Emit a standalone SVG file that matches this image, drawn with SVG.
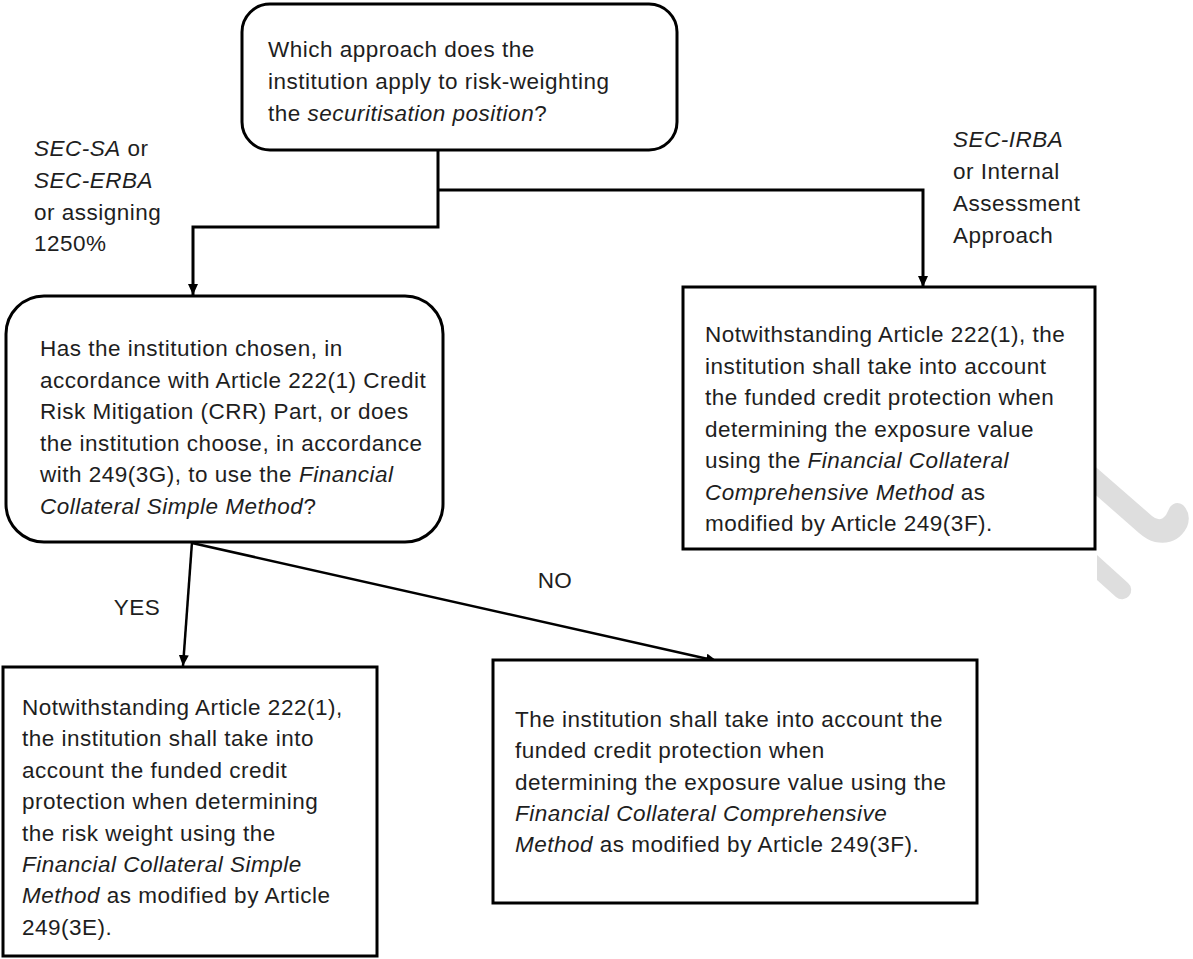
<svg xmlns="http://www.w3.org/2000/svg" width="1193" height="959" viewBox="0 0 1193 959">
<style>
.box{fill:#fff;stroke:#000;stroke-width:3}
.t{font-family:"Liberation Sans",Arial,sans-serif;font-size:22.5px;letter-spacing:0.5px;fill:#1e1e1e}
.i{font-style:italic}
.c{fill:none;stroke:#000;stroke-width:3}
.d{fill:none;stroke:#000;stroke-width:2.5}
.wm{fill:#dedede}
</style>
<defs>
<marker id="ah" markerUnits="userSpaceOnUse" markerWidth="11" markerHeight="10" refX="11" refY="5" orient="auto">
<path d="M0,0 L11,5 L0,10 z" fill="#000"/>
</marker>
</defs>
<g id="watermark">
<path class="wm" d="M1090 462 L1152 516 Q1160 523 1166 515 L1170 507 Q1176 500 1183 505 Q1192 514 1187 527 Q1177 546 1155 542 Q1147 540 1139 533 L1090 490 Z"/>
<path class="wm" d="M1097 555 L1128 583 A 9.2 9.2 0 0 1 1116 597 L1097 580 Z"/>
</g>
<g id="connectors">
<path class="c" d="M438 150 V227 H193 V295" marker-end="url(#ah)"/>
<path class="c" d="M438 190 H923 V287" marker-end="url(#ah)"/>
<path class="d" d="M192 542 L183 666" marker-end="url(#ah)"/>
<path class="d" d="M192 543 L717 661" marker-end="url(#ah)"/>
</g>
<g id="q1">
<rect class="box" x="242" y="4" width="435" height="146" rx="28"/>
<text class="t" x="268" y="57">Which approach does the</text>
<text class="t" x="268" y="89">institution apply to risk-weighting</text>
<text class="t" x="268" y="121">the <tspan class="i">securitisation position</tspan>?</text>
</g>
<g id="label-left">
<text class="t" x="34" y="156"><tspan class="i">SEC-SA</tspan> or</text>
<text class="t i" x="34" y="188">SEC-ERBA</text>
<text class="t" x="34" y="220">or assigning</text>
<text class="t" x="34" y="251">1250%</text>
</g>
<g id="label-right">
<text class="t i" x="953" y="147">SEC-IRBA</text>
<text class="t" x="953" y="179">or Internal</text>
<text class="t" x="953" y="211">Assessment</text>
<text class="t" x="953" y="243">Approach</text>
</g>
<g id="q2">
<rect class="box" x="6" y="296" width="437" height="246" rx="38"/>
<text class="t" x="40" y="356">Has the institution chosen, in</text>
<text class="t" x="40" y="387.5">accordance with Article 222(1) Credit</text>
<text class="t" x="40" y="419">Risk Mitigation (CRR) Part, or does</text>
<text class="t" x="40" y="450.5">the institution choose, in accordance</text>
<text class="t" x="40" y="482">with 249(3G), to use the <tspan class="i">Financial</tspan></text>
<text class="t i" x="40" y="513.5">Collateral Simple Method<tspan font-style="normal">?</tspan></text>
</g>
<g id="irba">
<rect class="box" x="683" y="287" width="412" height="262"/>
<text class="t" x="705" y="342">Notwithstanding Article 222(1), the</text>
<text class="t" x="705" y="373.5">institution shall take into account</text>
<text class="t" x="705" y="405">the funded credit protection when</text>
<text class="t" x="705" y="436.5">determining the exposure value</text>
<text class="t" x="705" y="468">using the <tspan class="i">Financial Collateral</tspan></text>
<text class="t" x="705" y="499.5"><tspan class="i">Comprehensive Method</tspan> as</text>
<text class="t" x="705" y="531">modified by Article 249(3F).</text>
</g>
<g id="yes-label"><text class="t" x="137" y="615" text-anchor="middle">YES</text></g>
<g id="no-label"><text class="t" x="555" y="588" text-anchor="middle">NO</text></g>
<g id="yes">
<rect class="box" x="3" y="667" width="374" height="289"/>
<text class="t" x="22" y="715">Notwithstanding Article 222(1),</text>
<text class="t" x="22" y="746.4">the institution shall take into</text>
<text class="t" x="22" y="777.8">account the funded credit</text>
<text class="t" x="22" y="809.2">protection when determining</text>
<text class="t" x="22" y="840.6">the risk weight using the</text>
<text class="t i" x="22" y="872">Financial Collateral Simple</text>
<text class="t" x="22" y="903.4"><tspan class="i">Method</tspan> as modified by Article</text>
<text class="t" x="22" y="934.8">249(3E).</text>
</g>
<g id="no">
<rect class="box" x="493" y="660" width="484" height="243"/>
<text class="t" x="515" y="727">The institution shall take into account the</text>
<text class="t" x="515" y="758.3">funded credit protection when</text>
<text class="t" x="515" y="789.6">determining the exposure value using the</text>
<text class="t i" x="515" y="820.9">Financial Collateral Comprehensive</text>
<text class="t" x="515" y="852.2"><tspan class="i">Method</tspan> as modified by Article 249(3F).</text>
</g>
</svg>
